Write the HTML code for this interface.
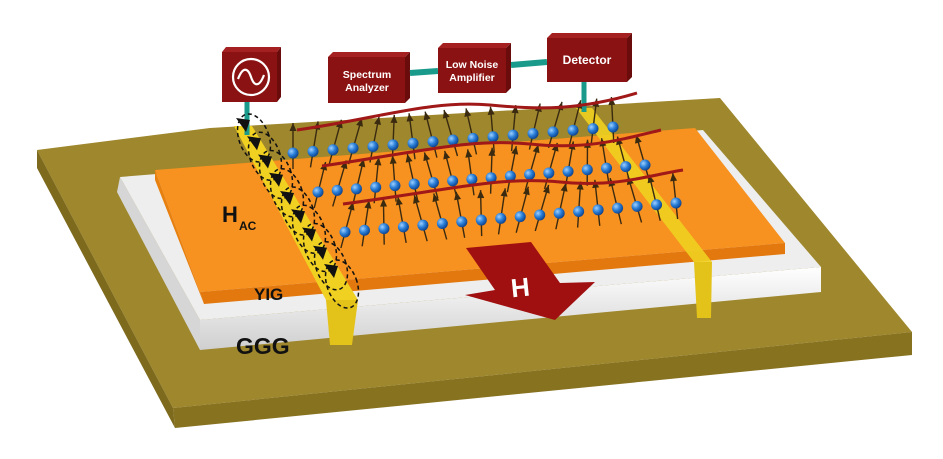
<!DOCTYPE html>
<html><head><meta charset="utf-8"><style>
html,body{margin:0;padding:0;background:#fff;}
svg{display:block;}
text{font-family:"Liberation Sans",sans-serif;font-weight:bold;}
</style></head><body>
<svg id="s" width="943" height="459" viewBox="0 0 943 459" xmlns="http://www.w3.org/2000/svg">
<defs>
<radialGradient id="ball" cx="0.35" cy="0.35" r="0.7"><stop offset="0" stop-color="#9fd0ff"/><stop offset="0.5" stop-color="#2a7fd8"/><stop offset="1" stop-color="#0c3f8a"/></radialGradient>
<linearGradient id="wh" x1="0" y1="0" x2="0" y2="1"><stop offset="0" stop-color="#ffffff"/><stop offset="1" stop-color="#cfcfcf"/></linearGradient>
</defs>
<polygon points="37,150 210,128 720,98 912,332 173,408" fill="#9e872c"/>
<polygon points="173,408 912,332 912,355 175,428" fill="#87721f"/>
<polygon points="37,150 173,408 175,428 37,168" fill="#7d6a1c"/>
<polygon points="117,192 200,350 200,320 120,177" fill="#d6d6d6"/>
<polygon points="200,320 821,267 821,292 200,350" fill="url(#wh)"/>
<polygon points="120,177 703,130 821,267 200,320" fill="#eeeeee"/>
<polygon points="155,170 695,128 785,243 200,292" fill="#f7911f"/>
<polygon points="200,292 785,243 785,254 204,304" fill="#e2780e"/>
<polygon points="155,170 200,292 204,304 155,180" fill="#e8800f"/>
<polygon points="234,126 252,126 358,300 326,300" fill="#f0d020"/>
<polygon points="326,300 358,300 352,345 330,345" fill="#e3c21a"/>
<polygon points="576,108 592,108 712,262 694,262" fill="#f0d020" opacity="0.9"/>
<polygon points="694,262 712,262 711,318 697,318" fill="#e3c21a"/>
<line x1="247" y1="102" x2="247" y2="135" stroke="#1a9a8a" stroke-width="5"/>
<line x1="584" y1="82" x2="584" y2="112" stroke="#1a9a8a" stroke-width="5"/>
<g id="spins"></g>
<g fill="none" stroke="#a01818" stroke-width="3">
<path d="M297,130 C380,118 430,100 490,105 C540,110 580,110 637,93"/>
<path d="M322,166 C420,152 470,138 530,144 C585,150 620,140 661,130"/>
<path d="M343,204 C450,190 500,176 560,182 C615,188 650,175 683,170"/>
</g>
<g id="hac"></g>
<polygon points="466,248 531,242 560,283 595,282 555,320 465,295 495,290" fill="#a01010"/>
<text x="511" y="296" font-size="26" fill="#fff" transform="rotate(-6 525 288)">H</text>
<g>
<polygon points="222,52 226,47 281,47 277,52" fill="#a52020"/><polygon points="277,52 281,47 281,97 277,102" fill="#6a0c0c"/>
<rect x="222" y="52" width="55" height="50" fill="#8b1212"/>
<circle cx="251" cy="77" r="18" fill="none" stroke="#fff" stroke-width="2.2"/>
<path d="M238,79 C243,66 248,68 251,77 C254,86 259,88 264,75" fill="none" stroke="#fff" stroke-width="2.2"/>
<polygon points="328,57 333,52 410,52 405,57" fill="#a52020"/><polygon points="405,57 410,52 410,98 405,103" fill="#6a0c0c"/>
<rect x="328" y="57" width="77" height="46" fill="#8b1212"/>
<line x1="410" y1="73" x2="438" y2="71" stroke="#1a9a8a" stroke-width="6"/>
<line x1="511" y1="65" x2="547" y2="62" stroke="#1a9a8a" stroke-width="6"/>
<polygon points="438,48 443,43 511,43 506,48" fill="#a52020"/><polygon points="506,48 511,43 511,88 506,93" fill="#6a0c0c"/>
<rect x="438" y="48" width="68" height="45" fill="#8b1212"/>
<polygon points="547,38 552,33 632,33 627,38" fill="#a52020"/><polygon points="627,38 632,33 632,77 627,82" fill="#6a0c0c"/>
<rect x="547" y="38" width="80" height="44" fill="#8b1212"/>
<g fill="#fff" font-size="10.5" text-anchor="middle">
<text x="367" y="78">Spectrum</text><text x="367" y="91">Analyzer</text>
<text x="472" y="68">Low Noise</text><text x="472" y="81">Amplifier</text>
<text x="587" y="64" font-size="12">Detector</text>
</g>
</g>
<text x="222" y="222" font-size="22" fill="#111">H</text><text x="239" y="230" font-size="12" fill="#111">AC</text>
<text x="254" y="300" font-size="17" fill="#111">YIG</text>
<text x="236" y="354" font-size="23" fill="#111">GGG</text>
</svg>
<script>
var ns="http://www.w3.org/2000/svg",g=document.getElementById("spins");
function el(n,a,p){var e=document.createElementNS(ns,n);for(var k in a)e.setAttribute(k,a[k]);(p||g).appendChild(e);return e;}
var rows=[[293,153,613,127,17],[318,192,645,165,18],[345,232,676,203,18]];
rows.forEach(function(r,ri){for(var i=0;i<r[4];i++){var t=i/(r[4]-1),x=r[0]+(r[2]-r[0])*t,y=r[1]+(r[3]-r[1])*t;
var d=9*Math.sin(i*0.6+ri),tx=x-d*0.5,ty=y+16,hx=x+d,hy=y-30;
el("line",{x1:tx,y1:ty,x2:hx,y2:hy,stroke:"#3a2a10","stroke-width":1.4});
var ang=Math.atan2(hy-ty,hx-tx),L=8,W=3.5;
var bx=hx-L*Math.cos(ang),by=hy-L*Math.sin(ang),px=-Math.sin(ang)*W,py=Math.cos(ang)*W;
el("polygon",{points:hx+","+hy+" "+(bx+px)+","+(by+py)+" "+(bx-px)+","+(by-py),fill:"#3a2a10"});
el("circle",{cx:x,cy:y,r:5.5,fill:"url(#ball)"});}});
var h=document.getElementById("hac");
for(var i=0;i<9;i++){var t=i/8,x=244+(332-244)*t,y=124+(270-124)*t;
var cx=x+10,cy=y+14;
el("ellipse",{cx:cx,cy:cy,rx:15,ry:25,fill:"none",stroke:"#111","stroke-width":1.5,"stroke-dasharray":"4,3",transform:"rotate(-20 "+cx+" "+cy+")"},h);
el("polygon",{points:(x-8)+","+(y-6)+" "+(x+6)+","+(y-4)+" "+(x+2)+","+(y+8),fill:"#111"},h);}
</script>
</body></html>
